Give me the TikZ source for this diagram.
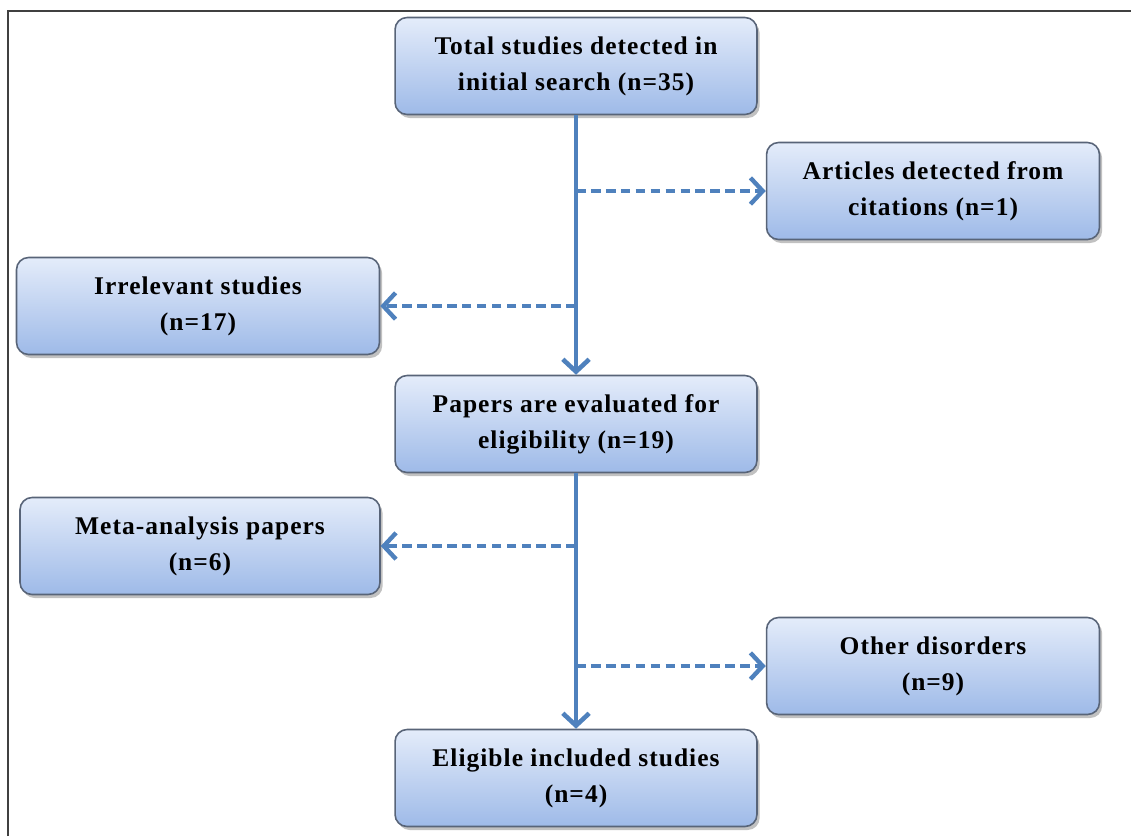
\documentclass[tikz,border=0pt]{standalone}
\usepackage{fontspec}
\setmainfont{Liberation Serif}[LetterSpace=4]
\usepackage{xcolor}
\definecolor{flowblue}{RGB}{79,129,189}
\definecolor{boxtop}{RGB}{228,236,250}
\definecolor{boxbottom}{RGB}{158,186,232}
\definecolor{boxedge}{RGB}{88,100,120}
\usetikzlibrary{
  arrows.meta,
  positioning,
  calc,
  shadows
}

\tikzset{
  stagebox/.style={draw=boxedge, line width=0.9pt, rounded corners=0.24cm,
    top color=boxtop, bottom color=boxbottom, align=center,
    font=\fontsize{14.5}{20.5}\selectfont\bfseries,
    minimum height=1.94cm, inner sep=2pt,
    drop shadow={shadow xshift=1.5pt, shadow yshift=-2pt, opacity=0.35, fill=black!70}},
  mainflow/.style={flowblue, line width=2.8pt, -{Straight Barb[length=7pt, width=15pt, line width=2.6pt]}},
  sideflow/.style={flowblue, line width=2.5pt, dash pattern=on 5.5pt off 3pt,
    -{Straight Barb[length=7pt, width=15pt, line width=2.5pt]}}
}

\begin{document}
\begin{tikzpicture}[x=0.02cm, y=-0.02cm]
  \useasboundingbox (0,0) rectangle (1131,836);
  % frame lines
  \draw[black!75, line width=1.2pt] (8,836) -- (8,11) -- (1131,11);

  % centre column
  \node[stagebox, minimum width=7.24cm] (total) at (576,66) {Total studies detected in\\initial search (n=35)};
  \node[stagebox, minimum width=7.24cm] (papers) at (576,424) {Papers are evaluated for\\eligibility (n=19)};
  \node[stagebox, minimum width=7.24cm] (eligible) at (576,778) {Eligible included studies\\(n=4)};

  % side boxes
  \node[stagebox, minimum width=6.66cm] (citations) at (933,191) {Articles detected from\\citations (n=1)};
  \node[stagebox, minimum width=7.26cm] (irrelevant) at (198,306) {Irrelevant studies\\(n=17)};
  \node[stagebox, minimum width=7.20cm] (meta) at (200,546) {Meta-analysis papers\\(n=6)};
  \node[stagebox, minimum width=6.66cm] (other) at (933,666) {Other disorders\\(n=9)};

  % main flow
  \draw[mainflow] (total) -- (papers);
  \draw[mainflow] (papers) -- (eligible);

  % dashed branches
  \draw[sideflow] (total.south |- citations) -- (citations);
  \draw[sideflow] (total.south |- irrelevant) -- (irrelevant);
  \draw[sideflow] (papers.south |- meta) -- (meta);
  \draw[sideflow] (papers.south |- other) -- (other);
\end{tikzpicture}
\end{document}
